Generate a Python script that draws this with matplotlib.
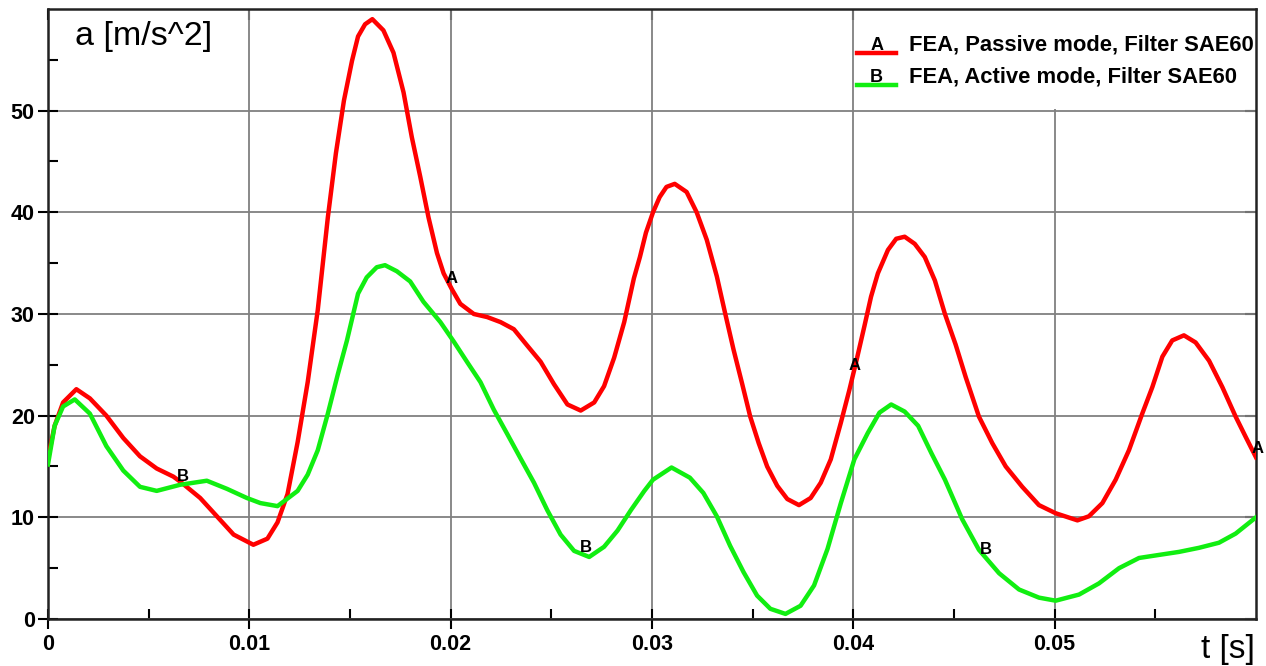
import numpy as np
import matplotlib
matplotlib.use("Agg")
import matplotlib.pyplot as plt
from matplotlib.legend_handler import HandlerBase
from matplotlib.lines import Line2D
from matplotlib.text import Text
from matplotlib.patches import Rectangle

plt.rcParams['font.family'] = ['Liberation Sans', 'DejaVu Sans']

# time in ms
t_a = [0.0, 0.33, 0.75, 1.41, 2.08, 2.9, 3.74, 4.57, 5.4, 6.23, 6.64, 7.56, 8.39, 9.22,
       10.2, 10.9, 11.4, 11.9, 12.4, 12.9, 13.4, 13.9, 14.3, 14.7, 15.1, 15.4, 15.75, 16.11,
       16.66, 17.16, 17.66, 18.07, 18.49, 18.9, 19.32, 19.65, 20.07, 20.48, 21.15, 21.81,
       22.48, 23.14, 23.8, 24.47, 25.13, 25.8, 26.46, 27.13, 27.62, 28.12, 28.62, 29.1,
       29.4, 29.7, 30.05, 30.38, 30.72, 31.13, 31.72, 32.22, 32.72, 33.22, 33.63, 34.05,
       34.47, 34.88, 35.3, 35.72, 36.22, 36.72, 37.3, 37.88, 38.38, 38.88, 39.38, 39.8,
       40.13, 40.55, 40.88, 41.22, 41.72, 42.13, 42.55, 43.05, 43.55, 44.05, 44.55, 45.08,
       45.58, 46.24, 46.9, 47.57, 48.39, 49.22, 50.05, 51.13, 51.7, 52.37, 53.03, 53.69,
       54.35, 54.85, 55.35, 55.84, 56.42, 57.0, 57.67, 58.33, 58.99, 59.49, 60.0]
a_passive = [15.8, 19.0, 21.3, 22.6, 21.7, 20.0, 17.8, 16.0, 14.8, 14.0, 13.4, 11.9, 10.1, 8.3,
             7.3, 7.9, 9.5, 12.3, 17.4, 23.3, 30.4, 39.5, 45.8, 51.0, 54.9, 57.3, 58.5, 59.0,
             57.9, 55.7, 51.8, 47.4, 43.5, 39.5, 36.0, 34.0, 32.4, 31.0, 30.0, 29.7,
             29.2, 28.5, 26.9, 25.3, 23.1, 21.1, 20.5, 21.3, 22.9, 25.7, 29.2, 33.5,
             35.6, 38.0, 40.0, 41.5, 42.5, 42.8, 42.0, 40.0, 37.3, 33.7, 30.1, 26.5,
             23.2, 19.9, 17.3, 15.0, 13.1, 11.8, 11.2, 11.9, 13.4, 15.7, 19.3, 22.5,
             25.2, 28.8, 31.7, 34.0, 36.3, 37.4, 37.6, 36.9, 35.6, 33.3, 30.0, 27.0,
             23.8, 19.9, 17.3, 15.0, 13.0, 11.2, 10.4, 9.7, 10.1, 11.4, 13.7, 16.6,
             20.2, 22.8, 25.8, 27.4, 27.9, 27.2, 25.4, 22.8, 19.9, 17.9, 15.9]

t_b = [0.0, 0.33, 0.75, 1.33, 2.08, 2.9, 3.74, 4.57, 5.4, 6.56, 7.89, 8.89, 9.88, 10.55,
       11.4, 12.4, 12.9, 13.4, 13.9, 14.4, 14.85, 15.4, 15.83, 16.33, 16.74, 17.33, 17.99,
       18.65, 19.49, 20.15, 20.81, 21.48, 22.14, 22.81, 23.47, 24.14, 24.8, 25.46, 26.13,
       26.88, 27.62, 28.29, 28.95, 29.62, 30.05, 30.97, 31.88, 32.55, 33.22, 33.88, 34.55,
       35.22, 35.88, 36.63, 37.38, 38.05, 38.72, 39.38, 40.05, 40.72, 41.3, 41.88, 42.55,
       43.22, 43.88, 44.55, 45.41, 46.24, 47.24, 48.23, 49.22, 50.05, 51.21, 52.2, 53.2,
       54.19, 55.18, 56.18, 57.17, 58.16, 58.99, 60.0]
a_active = [15.2, 19.0, 20.9, 21.6, 20.2, 17.0, 14.6, 13.0, 12.6, 13.2, 13.6, 12.8, 11.9, 11.4,
            11.1, 12.6, 14.2, 16.6, 20.2, 24.1, 27.4, 32.0, 33.6, 34.6, 34.8, 34.2, 33.2,
            31.2, 29.2, 27.3, 25.3, 23.3, 20.6, 18.2, 15.8, 13.4, 10.7, 8.3, 6.7,
            6.1, 7.1, 8.7, 10.7, 12.6, 13.7, 14.9, 13.9, 12.4, 10.1, 7.2, 4.6,
            2.3, 1.0, 0.5, 1.3, 3.3, 6.9, 11.4, 15.7, 18.3, 20.3, 21.1, 20.4,
            19.0, 16.3, 13.7, 9.8, 6.8, 4.5, 2.9, 2.1, 1.8, 2.4, 3.5, 5.0,
            6.0, 6.3, 6.6, 7.0, 7.5, 8.4, 10.0]

labels = ['FEA, Passive mode, Filter SAE60', 'FEA, Active mode, Filter SAE60']
letters = ['A', 'B']
marks_a = [0.02, 0.04, 0.06]
marks_b = [0.0067, 0.0267, 0.0466]
xticks = [0, 0.01, 0.02, 0.03, 0.04, 0.05]
xticklabels = ['0', '0.01', '0.02', '0.03', '0.04', '0.05']
yticks = [0, 10, 20, 30, 40, 50]

red = '#ff0000'
green = '#11ee11'


class LetterHandler(HandlerBase):
    # short line with the curve letter sitting on it
    def create_artists(self, legend, orig, xd, yd, w, h, fontsize, trans):
        x0, y0 = -xd, -yd - 0.15 * h
        line = Line2D([x0, x0 + w], [y0, y0], color=orig.get_color(),
                      lw=orig.get_linewidth(), transform=trans)
        txt = Text(x0 + w / 2, y0 - 1, orig.get_gid(), ha='center', va='bottom',
                   fontsize=13, fontweight='bold', transform=trans)
        return [line, txt]


fig = plt.figure(figsize=(12.66, 6.66), dpi=100)
ax = fig.add_axes([0.0379, 0.0706, 0.9542, 0.9159])

ta = np.array(t_a) / 1000
tb = np.array(t_b) / 1000
l1, = ax.plot(ta, a_passive, color=red, lw=3.2, label=labels[0], gid=letters[0], zorder=3)
l2, = ax.plot(tb, a_active, color=green, lw=3.2, label=labels[1], gid=letters[1], zorder=3)

for m in marks_a:
    ax.annotate('A', (m, np.interp(m, ta, a_passive)), xytext=(1, 6), textcoords='offset points',
                ha='center', va='center', fontsize=12, fontweight='bold', zorder=4)
for m in marks_b:
    ax.annotate('B', (m, np.interp(m, tb, a_active)), xytext=(0, 6), textcoords='offset points',
                ha='center', va='center', fontsize=12, fontweight='bold', zorder=4)

ax.set_xlim(0, 0.06)
ax.set_ylim(0, 60)
ax.set_xticks(xticks)
ax.set_xticklabels(xticklabels)
ax.set_yticks(yticks)
ax.set_xticks(np.arange(0.005, 0.06, 0.01), minor=True)
ax.set_yticks(np.arange(5, 60, 10), minor=True)
ax.tick_params(which='major', direction='inout', length=15, width=1.5, labelsize=15.5, pad=2)
ax.tick_params(which='minor', direction='in', length=7, width=1.5)
ax.tick_params(axis='x', which='major', pad=3)
for lab in ax.get_xticklabels() + ax.get_yticklabels():
    lab.set_fontweight('bold')

# inward ticks on top and right
top = ax.secondary_xaxis('top')
top.set_xticks(xticks)
top.tick_params(direction='in', length=8, width=1.5, labeltop=False)
right = ax.secondary_yaxis('right')
right.set_yticks(yticks)
right.tick_params(direction='in', length=8, width=1.5, labelright=False)
for sec in (top, right):
    for s in sec.spines.values():
        s.set_visible(False)

ax.set_axisbelow(True)
ax.grid(True, which='major', color='#808080', lw=1.3)
for s in ax.spines.values():
    s.set_linewidth(1.8)
    s.set_color('#222222')

# white box behind the legend, hides the grid there
ax.add_patch(Rectangle((0.0401, 50.2), 0.02, 10, facecolor='white', edgecolor='none', zorder=1))
ax.legend(handles=[l1, l2], handler_map={Line2D: LetterHandler()}, loc='upper left',
          bbox_to_anchor=(0.6697, 0.958), frameon=False, borderpad=0, borderaxespad=0,
          handlelength=1.8, handletextpad=0.55, labelspacing=0.5,
          prop={'weight': 'bold', 'size': 15.8})

ax.text(0.0224, 0.941, 'a [m/s^2]', fontsize=24.5, transform=ax.transAxes, va='baseline')
ax.text(0.999, -0.064, 't [s]', fontsize=24, transform=ax.transAxes, ha='right',
        va='baseline', clip_on=False)

fig.savefig('out.png', dpi=100)
